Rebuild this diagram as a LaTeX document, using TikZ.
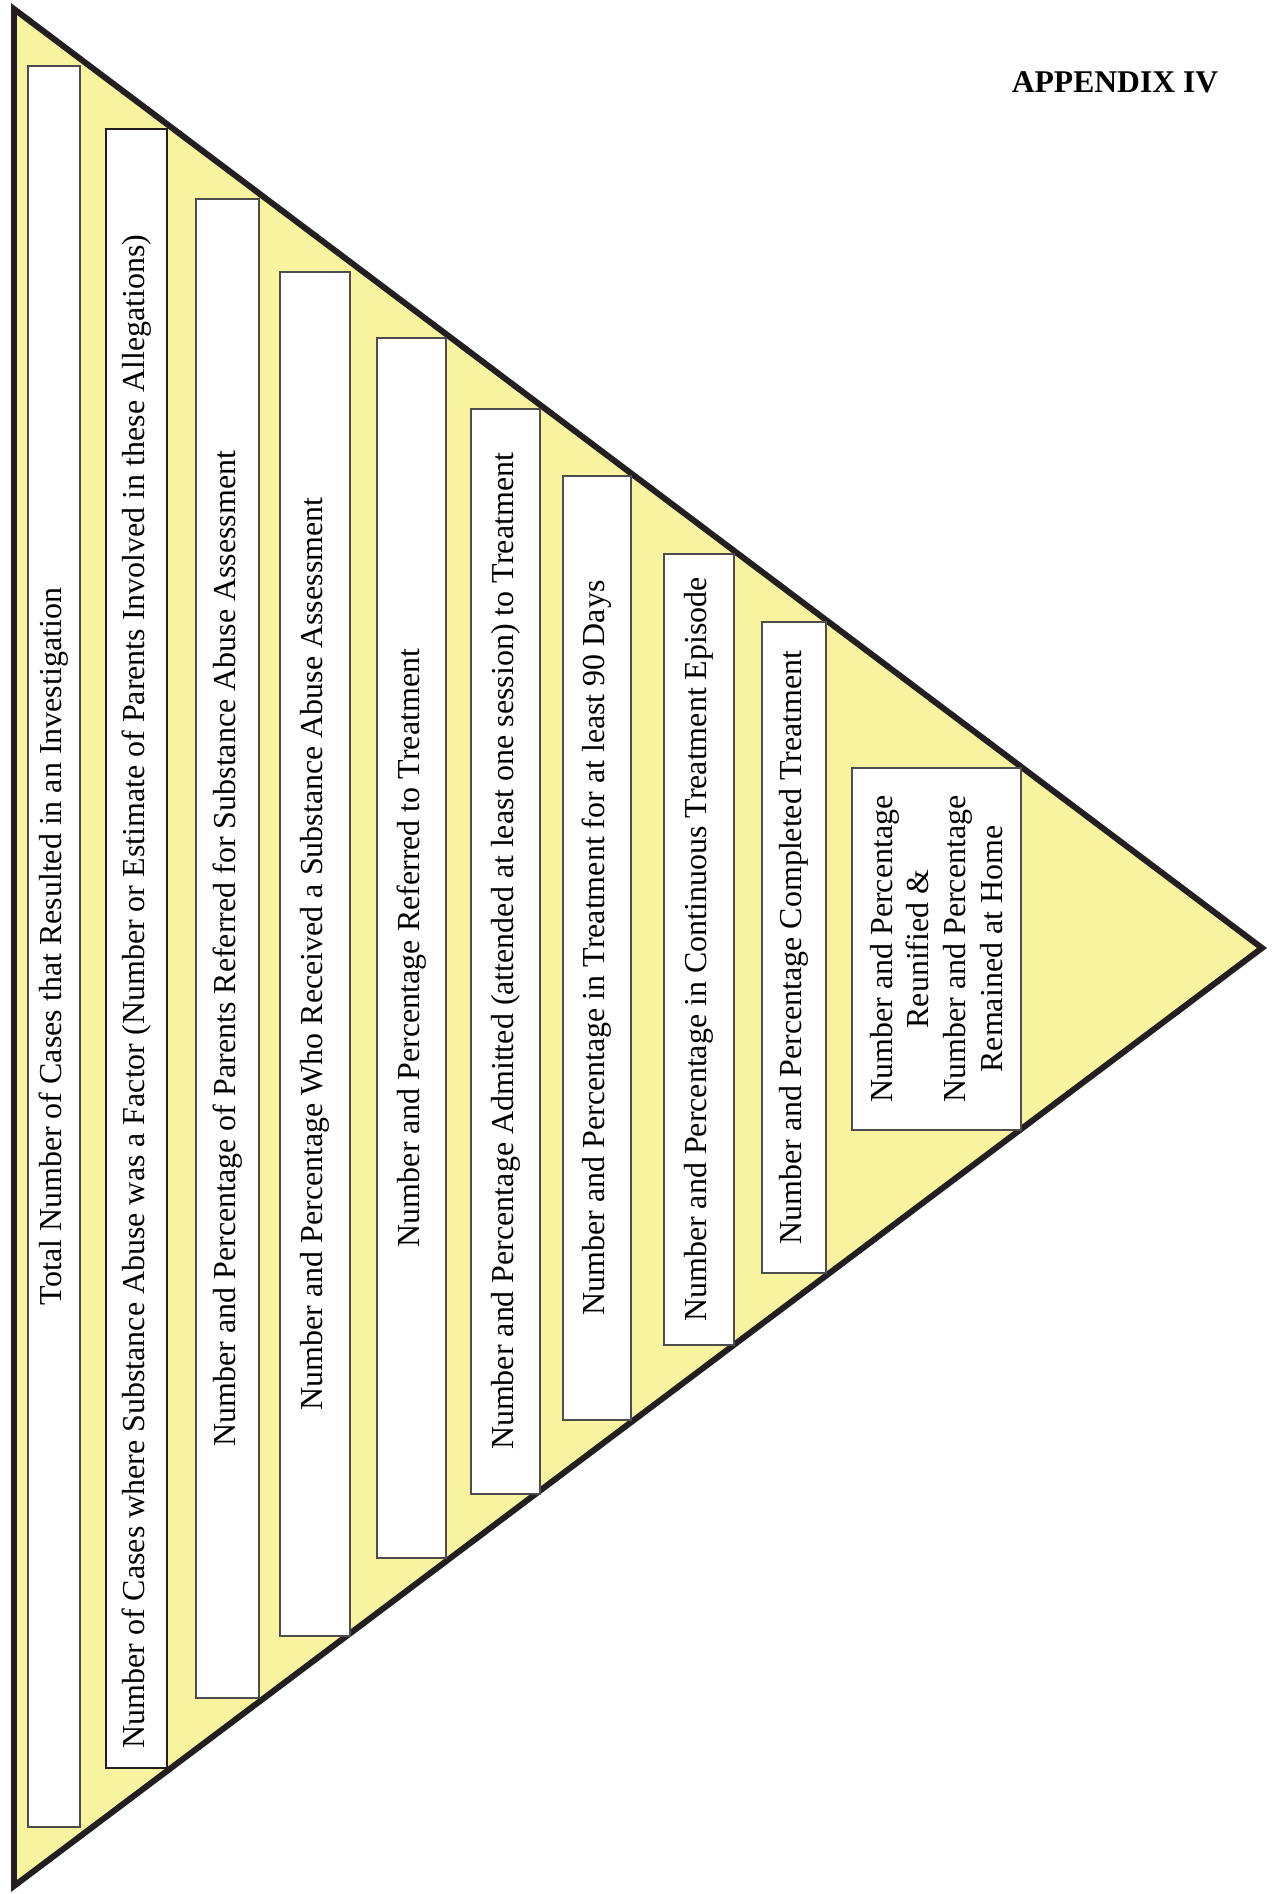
\documentclass[tikz,border=0pt]{standalone}
\usepackage{fontspec}
\setmainfont{Liberation Serif}
\definecolor{cyellow}{HTML}{F7F39E}
\definecolor{cink}{HTML}{231F20}
\definecolor{cgrey}{HTML}{4D4D4D}
\tikzset{
  every picture/.style={x=0.02cm, y=-0.02cm},
  funnel/.style={draw=cink, fill=cyellow, line width=3.4pt, line join=miter},
  stagebox/.style={draw=cgrey, fill=white, line width=0.8pt, rotate=90, align=center, inner sep=0pt, font=\fontsize{18.2}{21}\selectfont},
  title/.style={font=\fontsize{18}{21}\selectfont\bfseries},
}

\begin{document}
\begin{tikzpicture}
  \useasboundingbox (0,0) rectangle (1278,1894);
  % the funnel
  \coordinate (ftop) at (14,9);
  \coordinate (fbot) at (14,1886);
  \coordinate (ftip) at (1262,948);
  \draw[funnel] (ftop) -- (ftip) -- (fbot) -- cycle;
  \node[title] (appx) at (1115,82) {APPENDIX IV};
  % the stages, widest first
  \node[stagebox, minimum width=35.22cm, minimum height=1.04cm] (s1) at (54,946.5) {Total Number of Cases that Resulted in an Investigation};
  \node[stagebox, draw=cink, line width=1.2pt, minimum width=32.78cm, minimum height=1.22cm] (s2) at (136.5,948.5) {Number of Cases where Substance Abuse was a Factor (Number or Estimate of Parents Involved in these Allegations)\hspace*{1.72cm}};
  \node[stagebox, minimum width=29.98cm, minimum height=1.26cm] (s3) at (227.5,948.5) {Number and Percentage of Parents Referred for Substance Abuse Assessment};
  \node[stagebox, minimum width=27.28cm, minimum height=1.40cm] (s4) at (315,954) {Number and Percentage Who Received a Substance Abuse Assessment};
  \node[stagebox, minimum width=24.40cm, minimum height=1.38cm] (s5) at (411.5,948) {Number and Percentage Referred to Treatment};
  \node[stagebox, minimum width=21.70cm, minimum height=1.38cm] (s6) at (505.5,951.5) {Number and Percentage Admitted (attended at least one session) to Treatment};
  \node[stagebox, minimum width=18.88cm, minimum height=1.36cm] (s7) at (597,948) {Number and Percentage in Treatment for at least 90 Days};
  \node[stagebox, minimum width=15.82cm, minimum height=1.40cm] (s8) at (699,949.5) {Number and Percentage in Continuous Treatment Episode};
  \node[stagebox, minimum width=13.02cm, minimum height=1.28cm] (s9) at (794,947.5) {Number and Percentage Completed Treatment};
  \node[stagebox, minimum width=7.24cm, minimum height=3.38cm] (s10) at (936.5,949) {Number and Percentage\\ Reunified \&\\ Number and Percentage\\ Remained at Home};
\end{tikzpicture}
\end{document}
